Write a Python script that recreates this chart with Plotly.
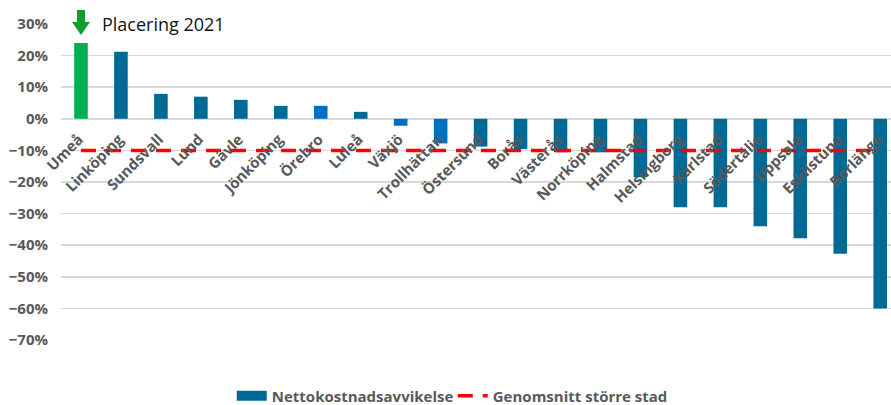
import plotly.graph_objects as go

cities = ["Umeå", "Linköping", "Sundsvall", "Lund", "Gävle", "Jönköping", "Örebro", "Luleå",
          "Växjö", "Trollhättan", "Östersund", "Borås", "Västerås", "Norrköping", "Halmstad",
          "Helsingborg", "Karlstad", "Södertälje", "Uppsala", "Eskilstuna", "Borlänge"]
deviation = [0.24, 0.212, 0.079, 0.07, 0.06, 0.041, 0.041, 0.022,
             -0.022, -0.078, -0.088, -0.096, -0.106, -0.106, -0.185,
             -0.28, -0.28, -0.34, -0.378, -0.427, -0.60]
average_larger_city = [-0.10] * len(cities)
highlight_city = "Umeå"
bright_cities = ["Örebro", "Växjö", "Trollhättan"]

GREEN = "#00B050"
TEAL = "#006A96"
BRIGHT = "#0070C0"
GRAY = "#595959"
FONT = "Open Sans"

X_RANGE = [-0.5, 20.27]
Y_RANGE = [-0.7, 0.3]

bar_colors = [GREEN if c == highlight_city else (BRIGHT if c in bright_cities else TEAL) for c in cities]

fig = go.Figure()
fig.add_trace(go.Bar(
    x=cities, y=deviation, name="Nettokostnadsavvikelse", showlegend=False,
    marker=dict(color=bar_colors, line=dict(width=0)),
    width=0.34,
))
# legend entry for the bars (wide rectangle like the original)
fig.add_trace(go.Scatter(
    x=[None], y=[None], name="Nettokostnadsavvikelse", mode="lines",
    line=dict(color=TEAL, width=10),
))
fig.add_trace(go.Scatter(
    x=cities, y=average_larger_city, name="Genomsnitt större stad", mode="lines",
    line=dict(color="#FF0000", width=3.5, dash="15px,10px"),
))

hi = cities.index(highlight_city)
hx = (hi - X_RANGE[0]) / (X_RANGE[1] - X_RANGE[0])
hy = (deviation[hi] - Y_RANGE[0]) / (Y_RANGE[1] - Y_RANGE[0])
# green down arrow above the highlighted bar (paper-referenced so it is not clipped)
fig.add_shape(
    type="path", xref="paper", yref="paper", xsizemode="pixel", ysizemode="pixel",
    xanchor=hx, yanchor=hy,
    path="M 0 8 L -9 21 L -4 21 L -4 33 L 4 33 L 4 21 L 9 21 Z",
    fillcolor="#0E9E2A", line=dict(width=0), layer="above",
)
fig.add_annotation(
    x=hx, y=hy, xref="paper", yref="paper", text="Placering 2021",
    showarrow=False, xanchor="left", yanchor="middle", xshift=19, yshift=19,
    font=dict(family=FONT, size=18, color="#111111"),
)

fig.update_layout(
    width=891, height=405,
    margin=dict(l=61, r=0, t=24, b=65, autoexpand=False),
    plot_bgcolor="white", paper_bgcolor="white",
    font=dict(family=FONT, color=GRAY),
    showlegend=True,
    legend=dict(orientation="h", x=0.472, xanchor="center", y=-0.177, yanchor="middle",
                font=dict(family=FONT, size=15, color=GRAY, weight="bold"),
                entrywidth=176, entrywidthmode="pixels",
                tracegroupgap=0),
)
fig.update_xaxes(
    type="category", categoryorder="array", categoryarray=cities,
    range=X_RANGE, anchor="free", position=0.7, automargin=False,
    showgrid=False, showline=False, ticks="", tickangle=-45,
    ticklabelstandoff=8, ticklabelshift=-2,
    tickfont=dict(family=FONT, size=15, color=GRAY, weight="bold"),
)
fig.update_yaxes(
    range=Y_RANGE, dtick=0.1, tickformat=".0%", automargin=False,
    showgrid=True, gridcolor="#D9D9D9", gridwidth=1.5,
    zeroline=True, zerolinecolor="#D9D9D9", zerolinewidth=1.5,
    showline=False, ticks="", ticklabelstandoff=12,
    tickfont=dict(family=FONT, size=15, color=GRAY, weight="bold"),
)

page_fix = (
    "var h=document.documentElement,b=document.body;"
    "h.style.margin='0';h.style.padding='0';h.style.overflow='hidden';h.style.height='405px';"
    "b.style.margin='0';b.style.padding='0';b.style.overflow='hidden';b.style.height='405px';"
)
fig.write_html("out.html", config={"displayModeBar": False, "staticPlot": True},
               post_script=page_fix)
